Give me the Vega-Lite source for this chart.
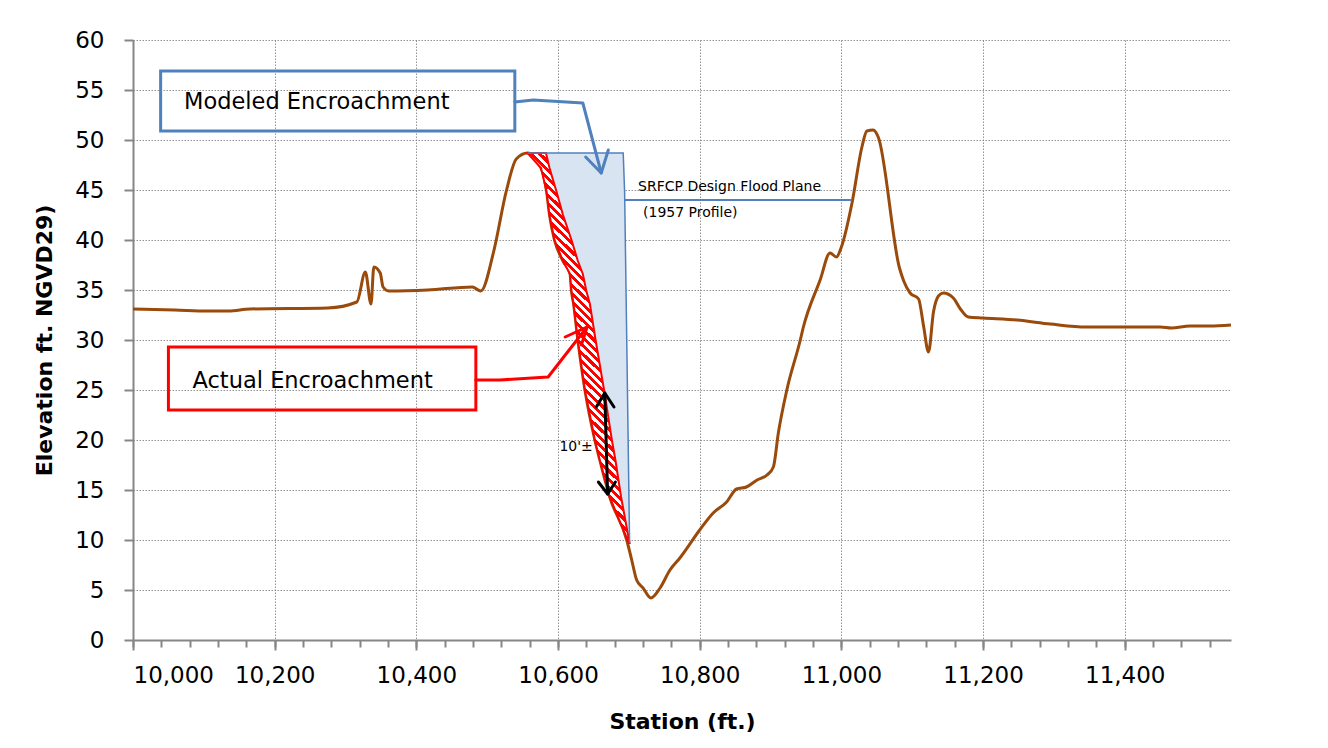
{
  "$schema": "https://vega.github.io/schema/vega-lite/v6.json",
  "autosize": {"type": "none"},
  "width": 1098,
  "height": 600,
  "padding": {"left": 133, "top": 40, "right": 97, "bottom": 108},
  "background": "white",
  "config": {
    "view": {"stroke": null},
    "font": "DejaVu Sans",
    "axis": {
      "domainColor": "#868686", "domainWidth": 2,
      "tickColor": "#868686", "tickWidth": 2,
      "gridColor": "#7a7a7a", "gridDash": [1.5, 1.5], "gridWidth": 1, "gridOpacity": 0.8,
      "labelFont": "DejaVu Sans", "labelFontSize": 23, "labelColor": "#000000",
      "titleFont": "DejaVu Sans", "titleFontSize": 22, "titleFontWeight": "bold", "titleColor": "#000000"
    }
  },
  "datasets": {
    "ground": [
      {"station": 10000, "elev": 33.1}, {"station": 10059, "elev": 33.0}, {"station": 10105, "elev": 32.9},
      {"station": 10135, "elev": 32.9}, {"station": 10165, "elev": 33.1}, {"station": 10275, "elev": 33.2},
      {"station": 10316, "elev": 33.8}, {"station": 10328, "elev": 36.8}, {"station": 10336, "elev": 33.6},
      {"station": 10340, "elev": 37.3}, {"station": 10349, "elev": 36.7}, {"station": 10353, "elev": 35.3},
      {"station": 10361, "elev": 34.9}, {"station": 10416, "elev": 35.0}, {"station": 10479, "elev": 35.3},
      {"station": 10491, "elev": 34.9}, {"station": 10509, "elev": 38.8}, {"station": 10527, "elev": 44.9},
      {"station": 10541, "elev": 48.1}, {"station": 10557, "elev": 48.7}, {"station": 10576, "elev": 47.2},
      {"station": 10584, "elev": 44.8}, {"station": 10588, "elev": 42.5}, {"station": 10595, "elev": 40.0},
      {"station": 10607, "elev": 37.9}, {"station": 10617, "elev": 36.6}, {"station": 10619, "elev": 34.9},
      {"station": 10622, "elev": 33.6}, {"station": 10628, "elev": 30.0}, {"station": 10638, "elev": 25.0},
      {"station": 10652, "elev": 20.0}, {"station": 10659, "elev": 18.0}, {"station": 10673, "elev": 14.3},
      {"station": 10697, "elev": 10.0}, {"station": 10704, "elev": 8.0}, {"station": 10711, "elev": 6.0},
      {"station": 10720, "elev": 5.2}, {"station": 10731, "elev": 4.2}, {"station": 10744, "elev": 5.2},
      {"station": 10758, "elev": 7.0}, {"station": 10772, "elev": 8.2}, {"station": 10800, "elev": 11.0},
      {"station": 10819, "elev": 12.7}, {"station": 10838, "elev": 13.8}, {"station": 10852, "elev": 15.1},
      {"station": 10866, "elev": 15.3}, {"station": 10881, "elev": 16.0}, {"station": 10895, "elev": 16.5},
      {"station": 10904, "elev": 17.3}, {"station": 10911, "elev": 20.7}, {"station": 10923, "elev": 25.0},
      {"station": 10942, "elev": 30.0}, {"station": 10946, "elev": 31.2}, {"station": 10970, "elev": 36.0},
      {"station": 10984, "elev": 38.7}, {"station": 10993, "elev": 38.3}, {"station": 11000, "elev": 39.3},
      {"station": 11015, "elev": 43.7}, {"station": 11029, "elev": 49.3}, {"station": 11036, "elev": 50.9},
      {"station": 11045, "elev": 51.0}, {"station": 11052, "elev": 50.3}, {"station": 11082, "elev": 37.2},
      {"station": 11088, "elev": 35.9}, {"station": 11097, "elev": 34.7}, {"station": 11109, "elev": 34.1},
      {"station": 11116, "elev": 31.4}, {"station": 11123, "elev": 28.8}, {"station": 11130, "elev": 32.8},
      {"station": 11137, "elev": 34.4}, {"station": 11144, "elev": 34.7}, {"station": 11158, "elev": 34.2},
      {"station": 11168, "elev": 33.1}, {"station": 11179, "elev": 32.3}, {"station": 11200, "elev": 32.2},
      {"station": 11248, "elev": 32.0}, {"station": 11295, "elev": 31.6}, {"station": 11346, "elev": 31.3},
      {"station": 11403, "elev": 31.3}, {"station": 11450, "elev": 31.3}, {"station": 11466, "elev": 31.2},
      {"station": 11492, "elev": 31.4}, {"station": 11520, "elev": 31.4}, {"station": 11550, "elev": 31.5}
    ],
    "encroach": [
      {"elev": 48.7, "lo": 10557, "actual": 10583, "modeled": 10692},
      {"elev": 47.2, "lo": 10576, "actual": 10588, "modeled": 10693},
      {"elev": 44.8, "lo": 10584, "actual": 10598, "modeled": 10694},
      {"elev": 42.5, "lo": 10588, "actual": 10607, "modeled": 10694},
      {"elev": 40.0, "lo": 10595, "actual": 10619, "modeled": 10695},
      {"elev": 37.9, "lo": 10607, "actual": 10628, "modeled": 10695},
      {"elev": 36.6, "lo": 10617, "actual": 10635, "modeled": 10695},
      {"elev": 34.9, "lo": 10619, "actual": 10640, "modeled": 10696},
      {"elev": 33.6, "lo": 10622, "actual": 10645, "modeled": 10696},
      {"elev": 30.0, "lo": 10628, "actual": 10653, "modeled": 10697},
      {"elev": 25.0, "lo": 10638, "actual": 10665, "modeled": 10698},
      {"elev": 20.0, "lo": 10652, "actual": 10676, "modeled": 10699},
      {"elev": 18.0, "lo": 10659, "actual": 10681, "modeled": 10699},
      {"elev": 14.3, "lo": 10673, "actual": 10689, "modeled": 10700},
      {"elev": 9.7, "lo": 10700, "actual": 10701, "modeled": 10701}
    ],
    "outline": [
      {"o": 1, "station": 10557, "elev": 48.7},
      {"o": 2, "station": 10692, "elev": 48.7},
      {"o": 3, "station": 10694, "elev": 44.8},
      {"o": 4, "station": 10697, "elev": 30.0},
      {"o": 5, "station": 10701, "elev": 9.7}
    ],
    "callouts": [
      {"kind": "modeled", "seg": "b1", "o": 1, "station": 10539, "elev": 53.8},
      {"kind": "modeled", "seg": "b1", "o": 2, "station": 10565, "elev": 54.0},
      {"kind": "modeled", "seg": "b1", "o": 3, "station": 10635, "elev": 53.7},
      {"kind": "modeled", "seg": "b1", "o": 4, "station": 10661, "elev": 46.7},
      {"kind": "modeled", "seg": "b2", "o": 1, "station": 10639, "elev": 48.3},
      {"kind": "modeled", "seg": "b2", "o": 2, "station": 10661, "elev": 46.7},
      {"kind": "modeled", "seg": "b2", "o": 3, "station": 10671, "elev": 49.0},
      {"kind": "actual", "seg": "r1", "o": 1, "station": 10484, "elev": 26.0},
      {"kind": "actual", "seg": "r1", "o": 2, "station": 10518, "elev": 26.0},
      {"kind": "actual", "seg": "r1", "o": 3, "station": 10586, "elev": 26.3},
      {"kind": "actual", "seg": "r1", "o": 4, "station": 10641, "elev": 31.3},
      {"kind": "actual", "seg": "r2", "o": 1, "station": 10610, "elev": 30.3},
      {"kind": "actual", "seg": "r2", "o": 2, "station": 10641, "elev": 31.3},
      {"kind": "actual", "seg": "r2", "o": 3, "station": 10633, "elev": 29.5},
      {"kind": "measure", "seg": "k1", "o": 1, "station": 10666, "elev": 24.7},
      {"kind": "measure", "seg": "k1", "o": 2, "station": 10670, "elev": 14.6},
      {"kind": "measure", "seg": "k2", "o": 1, "station": 10654, "elev": 23.3},
      {"kind": "measure", "seg": "k2", "o": 2, "station": 10666, "elev": 24.7},
      {"kind": "measure", "seg": "k2", "o": 3, "station": 10679, "elev": 23.3},
      {"kind": "measure", "seg": "k3", "o": 1, "station": 10657, "elev": 15.8},
      {"kind": "measure", "seg": "k3", "o": 2, "station": 10670, "elev": 14.6},
      {"kind": "measure", "seg": "k3", "o": 3, "station": 10681, "elev": 15.8},
      {"kind": "plane", "seg": "f1", "o": 1, "station": 10694, "elev": 44.0},
      {"kind": "plane", "seg": "f1", "o": 2, "station": 11015, "elev": 44.0}
    ],
    "boxes": [
      {"kind": "modeled", "x1": 10039, "x2": 10539, "elev": 50.9, "elev2": 56.9},
      {"kind": "actual", "x1": 10050, "x2": 10484, "elev": 23.0, "elev2": 29.3}
    ],
    "labels": [
      {"kind": "modeled", "label": "Modeled Encroachment", "station": 10072, "elev": 53.8},
      {"kind": "actual", "label": "Actual Encroachment", "station": 10084, "elev": 25.9},
      {"kind": "plane", "label": "SRFCP Design Flood Plane", "station": 10713, "elev": 45.3},
      {"kind": "plane", "label": "(1957 Profile)", "station": 10720, "elev": 42.7},
      {"kind": "measure", "label": "10'±", "station": 10602, "elev": 19.3}
    ]
  },
  "resolve": {"axis": {"x": "independent"}},
  "layer": [
    {
      "data": {"name": "ground"},
      "mark": {"type": "line", "color": "#9A4A0B", "strokeWidth": 3, "interpolate": "monotone"},
      "encoding": {
        "x": {"field": "station", "type": "quantitative",
              "scale": {"domain": [10000, 11550], "nice": false, "zero": false},
              "axis": {"title": "Station (ft.)", "orient": "bottom", "values": [10000, 10200, 10400, 10600, 10800, 11000, 11200, 11400],
                       "format": ",d", "tickSize": 10, "labelPadding": 14, "titlePadding": 24, "grid": true}},
        "y": {"field": "elev", "type": "quantitative",
              "scale": {"domain": [0, 60], "nice": false, "zero": true},
              "axis": {"title": "Elevation ft. NGVD29)", "values": [0, 5, 10, 15, 20, 25, 30, 35, 40, 45, 50, 55, 60],
                       "tickSize": 9, "labelPadding": 20, "titlePadding": 18, "grid": true}}
      }
    },
    {
      "data": {"name": "encroach"},
      "mark": {"type": "area", "orient": "horizontal", "fill": "#D9E4F3", "stroke": null},
      "encoding": {
        "y": {"field": "elev", "type": "quantitative"},
        "x": {"field": "lo", "type": "quantitative", "axis": null},
        "x2": {"field": "modeled"}
      }
    },
    {
      "data": {"name": "encroach"},
      "mark": {"type": "area", "orient": "horizontal", "stroke": "#FF0000", "strokeWidth": 2,
        "fill": {"gradient": "linear", "x1": 0, "y1": 1, "x2": 0.256, "y2": 0, "stops": [
          {"offset": 0.00, "color": "#ff0000"}, {"offset": 0.01, "color": "#ff0000"}, {"offset": 0.01, "color": "#ffffff"}, {"offset": 0.02, "color": "#ffffff"},
          {"offset": 0.02, "color": "#ff0000"}, {"offset": 0.03, "color": "#ff0000"}, {"offset": 0.03, "color": "#ffffff"}, {"offset": 0.04, "color": "#ffffff"},
          {"offset": 0.04, "color": "#ff0000"}, {"offset": 0.05, "color": "#ff0000"}, {"offset": 0.05, "color": "#ffffff"}, {"offset": 0.06, "color": "#ffffff"},
          {"offset": 0.06, "color": "#ff0000"}, {"offset": 0.07, "color": "#ff0000"}, {"offset": 0.07, "color": "#ffffff"}, {"offset": 0.08, "color": "#ffffff"},
          {"offset": 0.08, "color": "#ff0000"}, {"offset": 0.09, "color": "#ff0000"}, {"offset": 0.09, "color": "#ffffff"}, {"offset": 0.10, "color": "#ffffff"},
          {"offset": 0.10, "color": "#ff0000"}, {"offset": 0.11, "color": "#ff0000"}, {"offset": 0.11, "color": "#ffffff"}, {"offset": 0.12, "color": "#ffffff"},
          {"offset": 0.12, "color": "#ff0000"}, {"offset": 0.13, "color": "#ff0000"}, {"offset": 0.13, "color": "#ffffff"}, {"offset": 0.14, "color": "#ffffff"},
          {"offset": 0.14, "color": "#ff0000"}, {"offset": 0.15, "color": "#ff0000"}, {"offset": 0.15, "color": "#ffffff"}, {"offset": 0.16, "color": "#ffffff"},
          {"offset": 0.16, "color": "#ff0000"}, {"offset": 0.17, "color": "#ff0000"}, {"offset": 0.17, "color": "#ffffff"}, {"offset": 0.18, "color": "#ffffff"},
          {"offset": 0.18, "color": "#ff0000"}, {"offset": 0.19, "color": "#ff0000"}, {"offset": 0.19, "color": "#ffffff"}, {"offset": 0.20, "color": "#ffffff"},
          {"offset": 0.20, "color": "#ff0000"}, {"offset": 0.21, "color": "#ff0000"}, {"offset": 0.21, "color": "#ffffff"}, {"offset": 0.22, "color": "#ffffff"},
          {"offset": 0.22, "color": "#ff0000"}, {"offset": 0.23, "color": "#ff0000"}, {"offset": 0.23, "color": "#ffffff"}, {"offset": 0.24, "color": "#ffffff"},
          {"offset": 0.24, "color": "#ff0000"}, {"offset": 0.25, "color": "#ff0000"}, {"offset": 0.25, "color": "#ffffff"}, {"offset": 0.26, "color": "#ffffff"},
          {"offset": 0.26, "color": "#ff0000"}, {"offset": 0.27, "color": "#ff0000"}, {"offset": 0.27, "color": "#ffffff"}, {"offset": 0.28, "color": "#ffffff"},
          {"offset": 0.28, "color": "#ff0000"}, {"offset": 0.29, "color": "#ff0000"}, {"offset": 0.29, "color": "#ffffff"}, {"offset": 0.30, "color": "#ffffff"},
          {"offset": 0.30, "color": "#ff0000"}, {"offset": 0.31, "color": "#ff0000"}, {"offset": 0.31, "color": "#ffffff"}, {"offset": 0.32, "color": "#ffffff"},
          {"offset": 0.32, "color": "#ff0000"}, {"offset": 0.33, "color": "#ff0000"}, {"offset": 0.33, "color": "#ffffff"}, {"offset": 0.34, "color": "#ffffff"},
          {"offset": 0.34, "color": "#ff0000"}, {"offset": 0.35, "color": "#ff0000"}, {"offset": 0.35, "color": "#ffffff"}, {"offset": 0.36, "color": "#ffffff"},
          {"offset": 0.36, "color": "#ff0000"}, {"offset": 0.37, "color": "#ff0000"}, {"offset": 0.37, "color": "#ffffff"}, {"offset": 0.38, "color": "#ffffff"},
          {"offset": 0.38, "color": "#ff0000"}, {"offset": 0.39, "color": "#ff0000"}, {"offset": 0.39, "color": "#ffffff"}, {"offset": 0.40, "color": "#ffffff"},
          {"offset": 0.40, "color": "#ff0000"}, {"offset": 0.41, "color": "#ff0000"}, {"offset": 0.41, "color": "#ffffff"}, {"offset": 0.42, "color": "#ffffff"},
          {"offset": 0.42, "color": "#ff0000"}, {"offset": 0.43, "color": "#ff0000"}, {"offset": 0.43, "color": "#ffffff"}, {"offset": 0.44, "color": "#ffffff"},
          {"offset": 0.44, "color": "#ff0000"}, {"offset": 0.45, "color": "#ff0000"}, {"offset": 0.45, "color": "#ffffff"}, {"offset": 0.46, "color": "#ffffff"},
          {"offset": 0.46, "color": "#ff0000"}, {"offset": 0.47, "color": "#ff0000"}, {"offset": 0.47, "color": "#ffffff"}, {"offset": 0.48, "color": "#ffffff"},
          {"offset": 0.48, "color": "#ff0000"}, {"offset": 0.49, "color": "#ff0000"}, {"offset": 0.49, "color": "#ffffff"}, {"offset": 0.50, "color": "#ffffff"},
          {"offset": 0.50, "color": "#ff0000"}, {"offset": 0.51, "color": "#ff0000"}, {"offset": 0.51, "color": "#ffffff"}, {"offset": 0.52, "color": "#ffffff"},
          {"offset": 0.52, "color": "#ff0000"}, {"offset": 0.53, "color": "#ff0000"}, {"offset": 0.53, "color": "#ffffff"}, {"offset": 0.54, "color": "#ffffff"},
          {"offset": 0.54, "color": "#ff0000"}, {"offset": 0.55, "color": "#ff0000"}, {"offset": 0.55, "color": "#ffffff"}, {"offset": 0.56, "color": "#ffffff"},
          {"offset": 0.56, "color": "#ff0000"}, {"offset": 0.57, "color": "#ff0000"}, {"offset": 0.57, "color": "#ffffff"}, {"offset": 0.58, "color": "#ffffff"},
          {"offset": 0.58, "color": "#ff0000"}, {"offset": 0.59, "color": "#ff0000"}, {"offset": 0.59, "color": "#ffffff"}, {"offset": 0.60, "color": "#ffffff"},
          {"offset": 0.60, "color": "#ff0000"}, {"offset": 0.61, "color": "#ff0000"}, {"offset": 0.61, "color": "#ffffff"}, {"offset": 0.62, "color": "#ffffff"},
          {"offset": 0.62, "color": "#ff0000"}, {"offset": 0.63, "color": "#ff0000"}, {"offset": 0.63, "color": "#ffffff"}, {"offset": 0.64, "color": "#ffffff"},
          {"offset": 0.64, "color": "#ff0000"}, {"offset": 0.65, "color": "#ff0000"}, {"offset": 0.65, "color": "#ffffff"}, {"offset": 0.66, "color": "#ffffff"},
          {"offset": 0.66, "color": "#ff0000"}, {"offset": 0.67, "color": "#ff0000"}, {"offset": 0.67, "color": "#ffffff"}, {"offset": 0.68, "color": "#ffffff"},
          {"offset": 0.68, "color": "#ff0000"}, {"offset": 0.69, "color": "#ff0000"}, {"offset": 0.69, "color": "#ffffff"}, {"offset": 0.70, "color": "#ffffff"},
          {"offset": 0.70, "color": "#ff0000"}, {"offset": 0.71, "color": "#ff0000"}, {"offset": 0.71, "color": "#ffffff"}, {"offset": 0.72, "color": "#ffffff"},
          {"offset": 0.72, "color": "#ff0000"}, {"offset": 0.73, "color": "#ff0000"}, {"offset": 0.73, "color": "#ffffff"}, {"offset": 0.74, "color": "#ffffff"},
          {"offset": 0.74, "color": "#ff0000"}, {"offset": 0.75, "color": "#ff0000"}, {"offset": 0.75, "color": "#ffffff"}, {"offset": 0.76, "color": "#ffffff"},
          {"offset": 0.76, "color": "#ff0000"}, {"offset": 0.77, "color": "#ff0000"}, {"offset": 0.77, "color": "#ffffff"}, {"offset": 0.78, "color": "#ffffff"},
          {"offset": 0.78, "color": "#ff0000"}, {"offset": 0.79, "color": "#ff0000"}, {"offset": 0.79, "color": "#ffffff"}, {"offset": 0.80, "color": "#ffffff"},
          {"offset": 0.80, "color": "#ff0000"}, {"offset": 0.81, "color": "#ff0000"}, {"offset": 0.81, "color": "#ffffff"}, {"offset": 0.82, "color": "#ffffff"},
          {"offset": 0.82, "color": "#ff0000"}, {"offset": 0.83, "color": "#ff0000"}, {"offset": 0.83, "color": "#ffffff"}, {"offset": 0.84, "color": "#ffffff"},
          {"offset": 0.84, "color": "#ff0000"}, {"offset": 0.85, "color": "#ff0000"}, {"offset": 0.85, "color": "#ffffff"}, {"offset": 0.86, "color": "#ffffff"},
          {"offset": 0.86, "color": "#ff0000"}, {"offset": 0.87, "color": "#ff0000"}, {"offset": 0.87, "color": "#ffffff"}, {"offset": 0.88, "color": "#ffffff"},
          {"offset": 0.88, "color": "#ff0000"}, {"offset": 0.89, "color": "#ff0000"}, {"offset": 0.89, "color": "#ffffff"}, {"offset": 0.90, "color": "#ffffff"},
          {"offset": 0.90, "color": "#ff0000"}, {"offset": 0.91, "color": "#ff0000"}, {"offset": 0.91, "color": "#ffffff"}, {"offset": 0.92, "color": "#ffffff"},
          {"offset": 0.92, "color": "#ff0000"}, {"offset": 0.93, "color": "#ff0000"}, {"offset": 0.93, "color": "#ffffff"}, {"offset": 0.94, "color": "#ffffff"},
          {"offset": 0.94, "color": "#ff0000"}, {"offset": 0.95, "color": "#ff0000"}, {"offset": 0.95, "color": "#ffffff"}, {"offset": 0.96, "color": "#ffffff"},
          {"offset": 0.96, "color": "#ff0000"}, {"offset": 0.97, "color": "#ff0000"}, {"offset": 0.97, "color": "#ffffff"}, {"offset": 0.98, "color": "#ffffff"},
          {"offset": 0.98, "color": "#ff0000"}, {"offset": 0.99, "color": "#ff0000"}, {"offset": 0.99, "color": "#ffffff"}, {"offset": 1.00, "color": "#ffffff"}
        ]}},
      "encoding": {
        "y": {"field": "elev", "type": "quantitative"},
        "x": {"field": "lo", "type": "quantitative", "axis": null},
        "x2": {"field": "actual"}
      }
    },
    {
      "data": {"name": "outline"},
      "mark": {"type": "line", "color": "#4F81BD", "strokeWidth": 1.5},
      "encoding": {
        "x": {"field": "station", "type": "quantitative", "axis": null},
        "y": {"field": "elev", "type": "quantitative"},
        "order": {"field": "o"}
      }
    },
    {
      "data": {"name": "callouts"},
      "transform": [{"filter": "datum.kind === 'plane'"}],
      "mark": {"type": "line", "color": "#4F81BD", "strokeWidth": 2},
      "encoding": {
        "x": {"field": "station", "type": "quantitative", "axis": null},
        "y": {"field": "elev", "type": "quantitative"},
        "detail": {"field": "seg"},
        "order": {"field": "o"}
      }
    },
    {
      "data": {"name": "callouts"},
      "transform": [{"filter": "datum.kind === 'modeled'"}],
      "mark": {"type": "line", "color": "#4F81BD", "strokeWidth": 3, "strokeCap": "round", "strokeJoin": "round"},
      "encoding": {
        "x": {"field": "station", "type": "quantitative", "axis": null},
        "y": {"field": "elev", "type": "quantitative"},
        "detail": {"field": "seg"},
        "order": {"field": "o"}
      }
    },
    {
      "data": {"name": "callouts"},
      "transform": [{"filter": "datum.kind === 'actual'"}],
      "mark": {"type": "line", "color": "#FF0000", "strokeWidth": 3, "strokeCap": "round", "strokeJoin": "round"},
      "encoding": {
        "x": {"field": "station", "type": "quantitative", "axis": null},
        "y": {"field": "elev", "type": "quantitative"},
        "detail": {"field": "seg"},
        "order": {"field": "o"}
      }
    },
    {
      "data": {"name": "callouts"},
      "transform": [{"filter": "datum.kind === 'measure'"}],
      "mark": {"type": "line", "color": "#000000", "strokeWidth": 3, "strokeCap": "round", "strokeJoin": "round"},
      "encoding": {
        "x": {"field": "station", "type": "quantitative", "axis": null},
        "y": {"field": "elev", "type": "quantitative"},
        "detail": {"field": "seg"},
        "order": {"field": "o"}
      }
    },
    {
      "data": {"name": "boxes"},
      "transform": [{"filter": "datum.kind === 'modeled'"}],
      "mark": {"type": "rect", "filled": false, "stroke": "#4F81BD", "strokeWidth": 3},
      "encoding": {
        "x": {"field": "x1", "type": "quantitative", "axis": null},
        "x2": {"field": "x2"},
        "y": {"field": "elev", "type": "quantitative"},
        "y2": {"field": "elev2"}
      }
    },
    {
      "data": {"name": "boxes"},
      "transform": [{"filter": "datum.kind === 'actual'"}],
      "mark": {"type": "rect", "filled": false, "stroke": "#FF0000", "strokeWidth": 3},
      "encoding": {
        "x": {"field": "x1", "type": "quantitative", "axis": null},
        "x2": {"field": "x2"},
        "y": {"field": "elev", "type": "quantitative"},
        "y2": {"field": "elev2"}
      }
    },
    {
      "data": {"name": "labels"},
      "transform": [{"filter": "datum.kind === 'modeled' || datum.kind === 'actual'"}],
      "mark": {"type": "text", "align": "left", "baseline": "middle", "font": "DejaVu Sans", "fontSize": 22.5, "color": "#000000"},
      "encoding": {
        "x": {"field": "station", "type": "quantitative", "axis": null},
        "y": {"field": "elev", "type": "quantitative"},
        "text": {"field": "label"}
      }
    },
    {
      "data": {"name": "labels"},
      "transform": [{"filter": "datum.kind === 'plane' || datum.kind === 'measure'"}],
      "mark": {"type": "text", "align": "left", "baseline": "middle", "font": "DejaVu Sans", "fontSize": 14, "color": "#000000"},
      "encoding": {
        "x": {"field": "station", "type": "quantitative",
              "axis": {"title": null, "orient": "bottom", "labels": false, "grid": false, "domain": false, "tickSize": 7,
                       "values": [10000, 10040, 10080, 10120, 10160, 10200, 10240, 10280, 10320, 10360, 10400, 10440, 10480, 10520, 10560, 10600, 10640, 10680, 10720, 10760, 10800, 10840, 10880, 10920, 10960, 11000, 11040, 11080, 11120, 11160, 11200, 11240, 11280, 11320, 11360, 11400, 11440, 11480, 11520]}},
        "y": {"field": "elev", "type": "quantitative"},
        "text": {"field": "label"}
      }
    }
  ]
}
